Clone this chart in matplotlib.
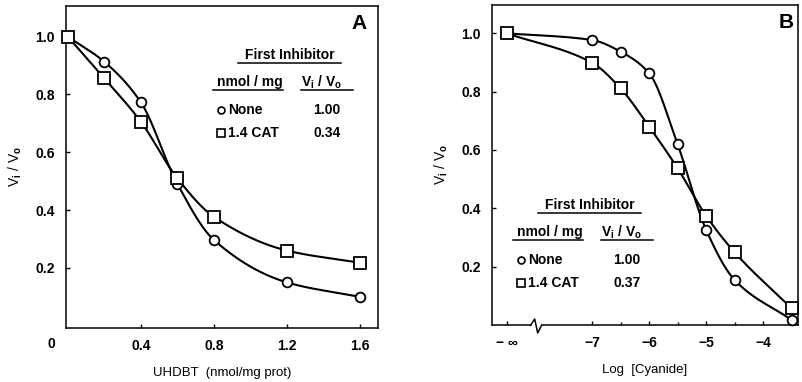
import matplotlib
matplotlib.use("Agg")
import matplotlib.pyplot as plt
import numpy as np
from matplotlib.lines import Line2D
from matplotlib.patches import Rectangle

plt.rcParams["font.family"] = ["Liberation Sans", "DejaVu Sans"]
plt.rcParams["font.weight"] = "bold"
plt.rcParams["mathtext.default"] = "bf"
plt.rcParams["mathtext.fontset"] = "custom"
plt.rcParams["mathtext.bf"] = "Liberation Sans:bold"
plt.rcParams["font.size"] = 10

# Panel A: UHDBT titration
uhdbt = [0.0, 0.2, 0.4, 0.6, 0.8, 1.2, 1.6]
a_none = [1.00, 0.913, 0.773, 0.491, 0.297, 0.150, 0.100]
a_cat = [1.00, 0.856, 0.706, 0.510, 0.377, 0.260, 0.218]

# Panel B: cyanide titration (-8.5 stands for log = -inf)
log_cn = [-8.5, -7.0, -6.5, -6.0, -5.5, -5.0, -4.5, -3.5]
b_none = [1.00, 0.977, 0.937, 0.863, 0.619, 0.326, 0.154, 0.017]
b_cat = [1.00, 0.899, 0.811, 0.680, 0.537, 0.374, 0.249, 0.057]
b_ticks = [-8.5, -7, -6, -5, -4]
b_ticklabels = ["\u2212 \u221e", "\u22127", "\u22126", "\u22125", "\u22124"]

W, H = 803, 382
LW = 1.5


def pchip(x, y, n=300):
    # monotone cubic through the measured points, just for drawing the curve
    x = np.asarray(x, float)
    y = np.asarray(y, float)
    h = np.diff(x)
    d = np.diff(y) / h
    m = np.zeros_like(y)
    for k in range(1, len(x) - 1):
        if d[k - 1] * d[k] > 0:
            w1 = 2 * h[k] + h[k - 1]
            w2 = h[k] + 2 * h[k - 1]
            m[k] = (w1 + w2) / (w1 / d[k - 1] + w2 / d[k])
    m[0] = d[0]
    m[-1] = d[-1]
    xs = np.linspace(x[0], x[-1], n)
    idx = np.clip(np.searchsorted(x, xs) - 1, 0, len(x) - 2)
    t = (xs - x[idx]) / h[idx]
    h00 = 2 * t**3 - 3 * t**2 + 1
    h10 = t**3 - 2 * t**2 + t
    h01 = -2 * t**3 + 3 * t**2
    h11 = t**3 - t**2
    ys = h00 * y[idx] + h10 * h[idx] * m[idx] + h01 * y[idx + 1] + h11 * h[idx] * m[idx + 1]
    return xs, ys


def px(x, y):
    return x / W, 1 - y / H


def legend_table(fig, x0, y0, value_none, value_cat):
    # x0, y0: pixel position of the left edge of "nmol / mg" row
    kw = dict(ha="left", va="center", fontsize=10)
    fig.text(*px(x0 + 28, y0 - 27), "First Inhibitor", **kw)
    fig.add_artist(Line2D([(x0 + 21) / W, (x0 + 124) / W], [1 - (y0 - 19) / H] * 2, color="black", lw=1.1))
    fig.text(*px(x0, y0), "nmol / mg", **kw)
    fig.add_artist(Line2D([(x0 - 4) / W, (x0 + 66) / W], [1 - (y0 + 8) / H] * 2, color="black", lw=1.1))
    fig.text(*px(x0 + 84, y0), "V$_i$ / V$_o$", **kw)
    fig.add_artist(Line2D([(x0 + 84) / W, (x0 + 136) / W], [1 - (y0 + 8) / H] * 2, color="black", lw=1.1))
    fig.add_artist(Line2D([(x0 + 4) / W], [1 - (y0 + 28) / H], marker="o", ms=5, mfc="white", mec="black", mew=1.2))
    fig.text(*px(x0 + 11, y0 + 28), "None", **kw)
    fig.add_artist(Line2D([(x0 + 4) / W], [1 - (y0 + 51) / H], marker="s", ms=5.5, mfc="white", mec="black", mew=1.2))
    fig.text(*px(x0 + 11, y0 + 51), "1.4 CAT", **kw)
    fig.text(*px(x0 + 110, y0 + 28), value_none, ha="center", va="center", fontsize=10)
    fig.text(*px(x0 + 110, y0 + 51), value_cat, ha="center", va="center", fontsize=10)


def draw_series(ax, x, y, marker, ms):
    xs, ys = pchip(x, y)
    ax.plot(xs, ys, color="black", lw=LW, zorder=2)
    ax.plot(x, y, ls="none", marker=marker, ms=ms, mfc="white", mec="black", mew=1.3, zorder=3, clip_on=False)


fig = plt.figure(figsize=(W / 100, H / 100), dpi=100)

# ---- Panel A
axA = fig.add_axes([66 / W, 1 - 328 / H, 312 / W, 322 / H])
draw_series(axA, uhdbt, a_none, "o", 7)
draw_series(axA, uhdbt, a_cat, "s", 8)
axA.set_xlim(-0.01, 1.70)
axA.set_ylim(-0.008, 1.106)
axA.set_xticks([0.4, 0.8, 1.2, 1.6])
axA.set_xticklabels(["0.4", "0.8", "1.2", "1.6"])
axA.set_yticks([0.2, 0.4, 0.6, 0.8, 1.0])
axA.set_yticklabels(["0.2", "0.4", "0.6", "0.8", "1.0"])
axA.tick_params(direction="in", length=3, width=1, pad=8, labelsize=10)
axA.text(-0.09, -0.028, "0", transform=axA.get_xaxis_transform(), ha="center", va="top", fontsize=10)
axA.set_xlabel("UHDBT  (nmol/mg prot)", fontsize=9.5, labelpad=10)
axA.set_ylabel("V$_i$ / V$_o$", fontsize=10, labelpad=8)
axA.text(0.965, 0.975, "A", transform=axA.transAxes, ha="right", va="top", fontsize=15, fontweight="bold")
for s in axA.spines.values():
    s.set_linewidth(1.1)
legend_table(fig, 217, 82, "1.00", "0.34")

# ---- Panel B
axB = fig.add_axes([491.7 / W, 1 - 325 / H, 306.3 / W, 320 / H])
draw_series(axB, log_cn, b_none, "o", 7)
draw_series(axB, log_cn, b_cat, "s", 8)
axB.set_xlim(-8.76, -3.39)
axB.set_ylim(0, 1.097)
axB.set_xticks(b_ticks)
axB.set_xticklabels(b_ticklabels)
axB.set_xticks([-6.5, -5.5, -4.5], minor=True)
axB.set_yticks([0.2, 0.4, 0.6, 0.8, 1.0])
axB.set_yticklabels(["0.2", "0.4", "0.6", "0.8", "1.0"])
axB.tick_params(direction="in", length=3, width=1, pad=8, labelsize=10)
axB.tick_params(which="minor", direction="in", length=2.5, width=1)
axB.set_xlabel("Log  [Cyanide]", fontsize=9.5, labelpad=10)
axB.set_ylabel("V$_i$ / V$_o$", fontsize=10, labelpad=8)
axB.text(0.985, 0.975, "B", transform=axB.transAxes, ha="right", va="top", fontsize=15, fontweight="bold")
for s in axB.spines.values():
    s.set_linewidth(1.1)

# axis break on the bottom spine of panel B
bx = (536.7 - 491.7) / 306.3
dx, dy = 1 / 306.3, 1 / 320
axB.add_patch(Rectangle((bx - 5 * dx, -2 * dy), 10 * dx, 4 * dy, transform=axB.transAxes,
                        facecolor="white", edgecolor="none", clip_on=False, zorder=4))
axB.add_line(Line2D([bx - 6 * dx, bx - 2 * dx, bx + 1 * dx, bx + 5 * dx],
                    [0, 6 * dy, -8 * dy, 0], transform=axB.transAxes, color="black",
                    lw=1.1, clip_on=False, zorder=5))
legend_table(fig, 517, 232, "1.00", "0.37")

fig.savefig("out.png", dpi=100)
